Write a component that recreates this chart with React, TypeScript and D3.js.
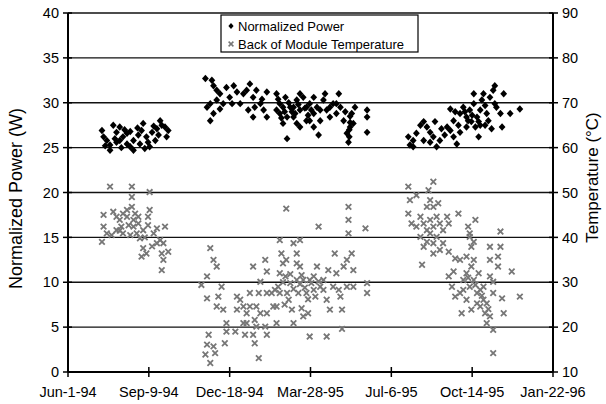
import React from 'react';
import * as d3 from 'd3';

// x positions are days after Jun-1-94
const startDate = new Date(1994, 5, 1);
const xTickDays = [0, 100, 200, 300, 400, 500, 600];
const xTickLabels = ['Jun-1-94', 'Sep-9-94', 'Dec-18-94', 'Mar-28-95', 'Jul-6-95', 'Oct-14-95', 'Jan-22-96'];
const powerTicks = [0, 5, 10, 15, 20, 25, 30, 35, 40];
const tempTicks = [10, 20, 30, 40, 50, 60, 70, 80, 90];

// Normalized Power (W)
const powerData: [number, number][] = [
  [42, 26.9], [44, 26.2], [48, 25.8], [52, 25.3], [52, 24.7], [56, 27.5], [60, 26.7], [60, 25.6], [64, 27.3], [64, 25.8],
  [68, 26.2], [73, 25.4], [73, 26.6], [77, 25.1], [77, 26.8], [81, 25.8], [81, 24.7], [87, 26.4], [89, 25.4], [91, 26.9],
  [93, 27.7], [95, 24.9], [97, 26.2], [99, 25.6], [101, 25.1], [104, 26.7], [108, 25.8], [110, 27.1], [114, 28.0], [116, 27.5],
  [120, 27.3], [122, 26.2], [124, 26.9], [106, 27.4], [86, 27.2], [70, 27.0], [46, 25.2], [58, 26.0], [66, 25.0], [112, 26.4],
  [170, 32.7], [178, 32.5], [180, 31.9], [184, 31.4], [172, 29.5], [176, 28.0], [180, 28.8], [184, 30.3], [188, 31.0], [192, 29.9],
  [196, 31.7], [200, 30.6], [205, 31.9], [209, 31.2], [213, 29.9], [217, 31.0], [221, 31.4], [225, 32.1], [229, 28.4], [229, 30.6],
  [233, 31.4], [238, 29.9], [242, 29.2], [246, 31.2], [246, 28.4], [258, 31.0], [262, 29.9], [262, 28.8], [266, 27.7], [269, 30.6],
  [271, 26.0], [275, 29.5], [279, 28.4], [283, 30.3], [287, 27.3], [287, 29.2], [291, 30.6], [295, 28.0], [299, 29.9], [304, 28.8],
  [304, 30.6], [308, 29.5], [310, 26.4], [312, 28.0], [316, 30.3], [318, 31.0], [320, 29.2], [324, 28.4], [328, 29.9], [332, 28.8],
  [335, 31.0], [337, 29.5], [341, 28.0], [343, 29.0], [345, 26.6], [347, 25.6], [349, 27.3], [351, 28.8], [353, 27.7], [355, 29.5],
  [370, 29.2], [370, 28.4], [370, 26.7], [258, 29.2], [266, 29.5], [271, 28.4], [279, 29.5], [283, 27.7], [295, 29.5], [304, 27.3],
  [312, 29.2], [324, 29.5], [332, 29.9], [188, 29.3], [176, 29.9], [203, 29.9], [231, 29.5], [223, 29.2], [240, 30.4], [287, 31.0],
  [299, 28.0], [349, 28.5], [349, 27.8], [348, 27.0], [348, 26.2], [260, 30.4], [264, 28.3], [268, 29.0], [273, 30.0], [277, 29.0],
  [281, 28.8], [285, 29.8], [293, 29.4], [297, 28.6], [301, 29.2],
  [421, 26.2], [423, 25.3], [427, 25.8], [431, 26.6], [436, 27.5], [440, 27.9], [444, 27.3], [448, 26.7], [452, 26.2], [456, 25.1],
  [460, 25.8], [462, 27.1], [466, 26.4], [469, 27.3], [473, 26.9], [477, 28.0], [481, 25.4], [483, 27.5], [485, 26.7], [473, 29.3],
  [479, 29.0], [485, 28.8], [489, 29.5], [493, 28.4], [497, 29.2], [499, 27.9], [502, 29.9], [504, 27.3], [506, 28.4], [510, 29.2],
  [512, 30.3], [514, 31.0], [516, 29.7], [518, 28.8], [520, 28.0], [522, 30.6], [526, 31.4], [528, 31.9], [524, 27.1], [530, 29.5],
  [535, 28.8], [539, 31.0], [537, 27.3], [547, 28.8], [559, 29.3], [508, 26.2], [502, 31.0], [493, 27.3], [516, 27.5], [448, 25.6],
  [427, 25.1], [454, 27.9], [440, 25.8], [477, 26.2], [508, 27.9], [491, 29.0], [528, 29.9], [510, 27.5], [500, 28.6], [495, 28.0],
];

// Back of Module Temperature (°C)
const tempData: [number, number][] = [
  [52, 51.3], [79, 51.3], [79, 49.0], [101, 50.1], [44, 45.0], [56, 45.7], [60, 44.6], [64, 43.9], [68, 45.3], [73, 46.1],
  [79, 46.8], [83, 45.3], [87, 44.6], [87, 43.1], [81, 42.4], [75, 42.7], [66, 42.4], [60, 41.6], [54, 40.5], [44, 42.4],
  [42, 39.0], [48, 40.9], [68, 40.9], [77, 40.5], [85, 40.9], [89, 39.8], [93, 41.6], [99, 44.6], [101, 46.1], [99, 42.7],
  [106, 40.9], [110, 42.0], [114, 39.4], [118, 38.7], [120, 42.4], [93, 37.6], [91, 35.7], [97, 36.4], [116, 36.4], [118, 35.0],
  [116, 32.7], [124, 36.8], [110, 38.7], [73, 44.6], [81, 43.9], [64, 41.5], [95, 40.0], [104, 38.0],
  [176, 37.6], [180, 35.0], [184, 33.5], [172, 31.3], [165, 29.4], [172, 26.4], [186, 26.8], [190, 29.0], [184, 24.6], [192, 23.9],
  [196, 20.9], [196, 19.0], [174, 18.3], [172, 16.1], [180, 15.7], [170, 13.9], [176, 12.0], [182, 14.2], [194, 16.4], [207, 19.0],
  [209, 26.8], [213, 26.1], [217, 20.9], [219, 18.3], [221, 23.1], [225, 24.6], [225, 27.6], [229, 33.5], [231, 21.6], [233, 24.6],
  [236, 27.6], [238, 30.1], [238, 23.1], [244, 35.0], [246, 32.4], [244, 20.1], [246, 23.1], [231, 16.4], [236, 13.1], [229, 18.3],
  [256, 28.3], [258, 24.6], [258, 20.9], [260, 29.0], [262, 39.4], [264, 36.4], [266, 34.2], [262, 32.0], [269, 31.3], [271, 27.6],
  [273, 26.1], [275, 29.8], [277, 23.9], [279, 20.9], [279, 38.7], [283, 30.5], [285, 27.6], [287, 39.4], [287, 33.5], [289, 24.2],
  [291, 22.4], [295, 27.6], [297, 23.1], [299, 17.9], [304, 31.3], [304, 28.3], [306, 26.8], [308, 33.5], [310, 42.4], [312, 29.0],
  [316, 28.3], [320, 17.9], [320, 26.1], [322, 32.7], [324, 23.9], [328, 29.0], [330, 36.4], [332, 32.0], [335, 28.3], [337, 26.8],
  [339, 23.9], [339, 19.6], [341, 33.5], [345, 35.0], [345, 29.0], [347, 46.8], [347, 43.9], [347, 40.9], [351, 36.4], [353, 32.7],
  [353, 29.0], [368, 42.0], [370, 29.8], [370, 27.6], [270, 46.4], [283, 36.4], [291, 30.5], [252, 27.6], [246, 27.6], [299, 30.5],
  [316, 30.5], [283, 34.2], [270, 35.0], [262, 27.6], [254, 24.6], [209, 23.9], [221, 20.9], [233, 20.1], [217, 24.6], [246, 18.3],
  [268, 25.0], [266, 30.0], [275, 31.8], [279, 28.5], [287, 29.6], [293, 28.8], [301, 29.8], [310, 30.2], [297, 26.2], [289, 31.6],
  [421, 51.3], [423, 48.3], [431, 49.4], [446, 50.5], [452, 52.4], [448, 48.3], [444, 46.8], [452, 46.8], [458, 47.6], [421, 45.3],
  [425, 43.1], [431, 42.4], [436, 44.6], [440, 43.1], [444, 41.6], [448, 43.9], [452, 42.4], [456, 44.6], [460, 43.1], [464, 41.6],
  [469, 44.6], [471, 43.1], [483, 45.3], [436, 40.1], [440, 37.9], [444, 39.0], [448, 40.9], [452, 38.7], [456, 40.1], [460, 37.2],
  [464, 38.7], [471, 36.8], [438, 33.9], [452, 36.4], [479, 35.3], [485, 35.0], [495, 42.4], [497, 40.1], [499, 37.9], [504, 43.9],
  [502, 35.0], [499, 33.5], [493, 32.0], [489, 30.5], [477, 32.4], [475, 29.0], [479, 26.8], [485, 27.6], [489, 28.3], [493, 26.1],
  [497, 29.0], [502, 30.5], [506, 27.6], [510, 24.6], [514, 26.1], [516, 23.1], [518, 20.9], [522, 22.4], [526, 19.4], [487, 23.1],
  [499, 23.9], [506, 25.3], [522, 37.9], [535, 37.9], [535, 41.3], [522, 35.0], [532, 35.7], [522, 31.3], [526, 30.1], [532, 33.5],
  [549, 32.4], [537, 26.4], [539, 23.1], [559, 26.8], [526, 14.2], [514, 29.0], [493, 35.7], [508, 32.0], [526, 27.6], [497, 40.9],
  [502, 39.0], [471, 31.3], [510, 28.3], [518, 25.3], [495, 31.0], [504, 29.4], [512, 27.0], [520, 24.0],
];

const diamond = 'M0,-3.7L3.4,0L0,3.7L-3.4,0Z';
const cross = 'M-2.8,-2.8L2.8,2.8M-2.8,2.8L2.8,-2.8';

const App = () => {
  const width = 606;
  const height = 404;
  const marginTop = 13;
  const marginRight = 53;
  const marginBottom = 32;
  const marginLeft = 68;
  const font = 'Arial, "Liberation Sans", sans-serif';

  const day = (d: number) => d3.timeDay.offset(startDate, d);
  const x = d3.scaleTime()
    .domain([day(0), day(600)])
    .range([marginLeft, width - marginRight]);
  const yPower = d3.scaleLinear().domain([0, 40]).range([height - marginBottom, marginTop]);
  const yTemp = d3.scaleLinear().domain([10, 90]).range([height - marginBottom, marginTop]);

  const x0 = marginLeft;
  const x1 = width - marginRight;
  const yBottom = height - marginBottom;

  return (
    <svg width={width} height={height} style={{ position: 'absolute', left: 0, top: 0, background: '#fff' }}
      fontFamily={font}>
      {/* grid lines */}
      {powerTicks.filter(t => t > 0).map(t => (
        <line key={'g' + t} x1={x0} x2={x1} y1={yPower(t)} y2={yPower(t)} stroke="#111" strokeWidth={1.4} />
      ))}

      {/* temperature points */}
      {tempData.map(([d, v], i) => (
        <path key={'t' + i} d={cross} transform={`translate(${x(day(d))},${yTemp(v)})`}
          stroke="#777" strokeWidth={1.8} fill="none" />
      ))}

      {/* power points */}
      {powerData.map(([d, v], i) => (
        <path key={'p' + i} d={diamond} transform={`translate(${x(day(d))},${yPower(v)})`} fill="#000" />
      ))}

      {/* axes */}
      <line x1={x0} x2={x0} y1={marginTop} y2={yBottom} stroke="#000" strokeWidth={2} />
      <line x1={x1} x2={x1} y1={marginTop} y2={yBottom} stroke="#000" strokeWidth={2} />
      <line x1={x0} x2={x1} y1={yBottom} y2={yBottom} stroke="#000" strokeWidth={2} />

      {powerTicks.map(t => (
        <g key={'l' + t}>
          <line x1={x0 - 5} x2={x0 + 4} y1={yPower(t)} y2={yPower(t)} stroke="#000" strokeWidth={1.5} />
          <text x={x0 - 9} y={yPower(t)} dy="0.36em" textAnchor="end" fontSize={14.5}>{t}</text>
        </g>
      ))}
      {tempTicks.map(t => (
        <g key={'r' + t}>
          <line x1={x1 - 4} x2={x1 + 5} y1={yTemp(t)} y2={yTemp(t)} stroke="#000" strokeWidth={1.5} />
          <text x={x1 + 9} y={yTemp(t)} dy="0.36em" textAnchor="start" fontSize={14.5}>{t}</text>
        </g>
      ))}
      {xTickDays.map((d, i) => (
        <g key={'x' + d}>
          <line x1={x(day(d))} x2={x(day(d))} y1={yBottom - 5} y2={yBottom + 5} stroke="#000" strokeWidth={1.5} />
          <text x={x(day(d))} y={yBottom + 25} textAnchor="middle" fontSize={14.5}>{xTickLabels[i]}</text>
        </g>
      ))}

      {/* axis titles */}
      <text transform={`translate(22,${(marginTop + yBottom) / 2 + 6}) rotate(-90)`} textAnchor="middle" fontSize={18}>
        Normalized Power (W)
      </text>
      <text transform={`translate(598,${(marginTop + yBottom) / 2 - 15}) rotate(-90)`} textAnchor="middle" fontSize={17}>
        Temperature (°C)
      </text>

      {/* legend */}
      <g transform="translate(221,15)">
        <rect width={197} height={37} fill="#fff" stroke="#000" strokeWidth={1.2} />
        <path d="M0,-3L2.6,0L0,3L-2.6,0Z" transform="translate(10,11)" fill="#000" />
        <text x={17} y={15.5} fontSize={13}>Normalized Power</text>
        <path d="M-2.4,-2.4L2.4,2.4M-2.4,2.4L2.4,-2.4" transform="translate(10,29)" stroke="#777" strokeWidth={1.5} />
        <text x={17} y={33.5} fontSize={13}>Back of Module Temperature</text>
      </g>
    </svg>
  );
};

export default App;
